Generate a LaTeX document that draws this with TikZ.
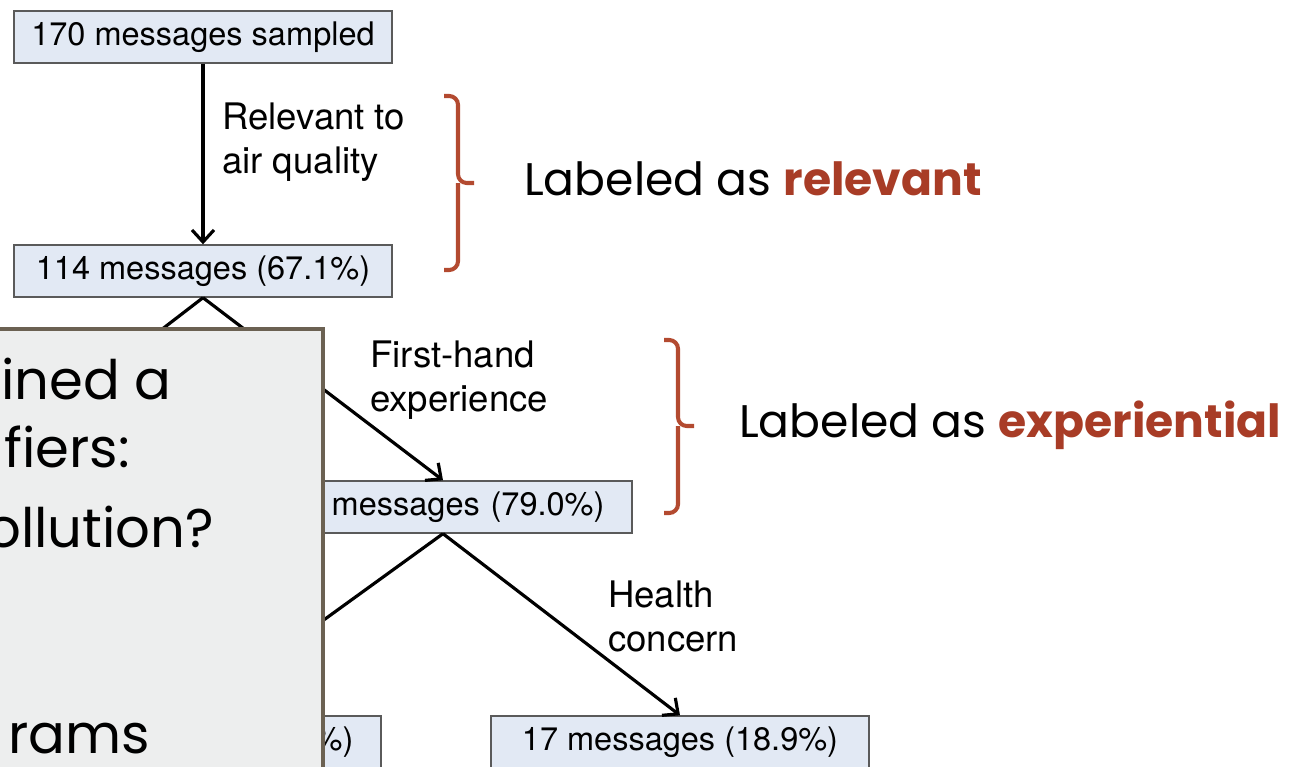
\documentclass[tikz,border=0pt]{standalone}
\usepackage{fontspec}
\setmainfont{TeX Gyre Heros}
\newfontfamily\gothic{Poppins}
\usetikzlibrary{arrows.meta}

\definecolor{boxblue}{HTML}{E2E9F4}
\definecolor{boxline}{HTML}{5A5A5A}
\definecolor{bracered}{HTML}{B34A30}
\definecolor{wordred}{HTML}{A83C26}
\definecolor{panelgray}{HTML}{EDEEEE}
\definecolor{panelline}{HTML}{6B6152}

\begin{document}
\begin{tikzpicture}[x=0.02cm,y=-0.02cm,
	msgbox/.style={draw=boxline,fill=boxblue,line width=0.8pt,minimum width=7.56cm,
		minimum height=1.04cm,inner sep=0pt,font=\fontsize{18.5}{22}\selectfont},
	cutbox/.style={msgbox,text width=6.46cm,align=right,inner xsep=0.55cm},
	edgelbl/.style={anchor=west,align=left,font=\fontsize{20.8}{25}\selectfont},
	flow/.style={line width=1.8pt,-{Straight Barb[length=2.4mm,width=4.4mm]}},
	split/.style={line width=1.8pt},
	brace/.style={draw=bracered,line width=2.3pt,rounded corners=5pt},
	tag/.style={anchor=base west,font=\gothic\fontsize{26}{30}\selectfont},
	panel/.style={anchor=base west,font=\gothic\fontsize{31}{38}\selectfont}]
			\useasboundingbox (0,0) rectangle (1295,767);

			\node[msgbox] (n170) at (203,37) {170 messages sampled};
			\node[msgbox] (n114) at (203,271) {114 messages (67.1\%)};
			\node[cutbox] (n79) at (443,507) {messages (79.0\%)};
			\node[cutbox] (nrest) at (192,742) {\%)};
			\node[msgbox] (n17) at (680,742) {17 messages (18.9\%)};
			\coordinate (hid) at (-34,480);

			\draw[flow] (n170) -- (n114);
			\draw[split] (n114.south) -- (hid);
			\draw[flow] (n114.south) -- (n79.north);
			\draw[flow] (n79.south) -- (nrest.north);
			\draw[flow] (n79.south) -- (n17.north);

			\node[edgelbl] (lrel) at (216,142) {Relevant to\\air quality};
			\node[edgelbl] (lfirst) at (364,380) {First-hand\\experience};
			\node[edgelbl] (lhealth) at (602,616) {Health\\concern};

			\draw[brace] (444,96) -| (458,183) -- (474,183) (458,183) |- (444,270);
			\draw[brace] (664,340) -| (678,426) -- (694,426) (678,426) |- (664,513);
			\node[tag] (trel) at (518,195) {Labeled as \textcolor{wordred}{\bfseries relevant}};
			\node[tag] (texp) at (733,437) {Labeled as \textcolor{wordred}{\bfseries experiential}};

			\draw[panelline,fill=panelgray,line width=2.8pt] (-10,329) rectangle (323,800);
			\node[panel] (p1) at (-5,399) {ined a};
			\node[panel] (p2) at (-2,467) {fiers:};
			\node[panel] (p3) at (-20,547) {ollution?};
			\node[panel] (p4) at (2,753) {rams};
\end{tikzpicture}
\end{document}
